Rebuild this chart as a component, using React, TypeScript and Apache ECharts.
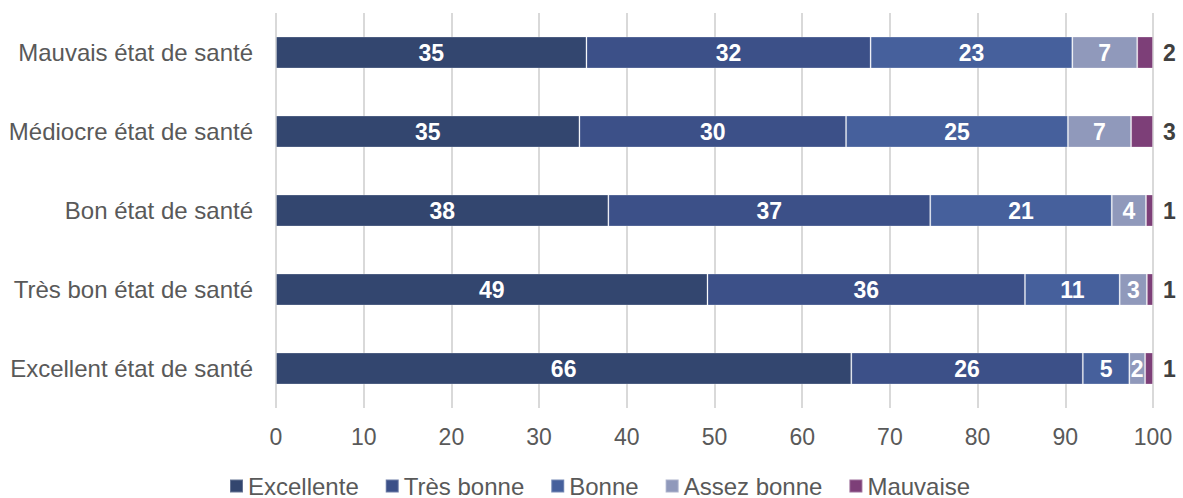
import React, { useEffect, useRef } from "react";
import * as echarts from "echarts";

const categories = [
  "Excellent état de santé",
  "Très bon état de santé",
  "Bon état de santé",
  "Médiocre état de santé",
  "Mauvais état de santé",
];
const seriesNames = ["Excellente", "Très bonne", "Bonne", "Assez bonne", "Mauvaise"];
const excellente = [65.6, 49.2, 37.9, 34.6, 35.4];
const tresBonne = [26.4, 36.2, 36.7, 30.4, 32.4];
const bonne = [5.3, 10.8, 20.7, 25.3, 23.0];
const assezBonne = [1.8, 3.1, 3.9, 7.2, 7.4];
const mauvaise = [0.9, 0.7, 0.8, 2.5, 1.8];
const xTicks = [0, 10, 20, 30, 40, 50, 60, 70, 80, 90, 100];

const colors = ["#33466F", "#3C5088", "#46609C", "#9099BB", "#7D3F78"];
const FONT = "'Liberation Sans', Arial, sans-serif";

export default function App() {
  const ref = useRef<HTMLDivElement>(null);
  useEffect(() => {
    if (!ref.current) return;
    const chart = echarts.init(ref.current, undefined, { renderer: "svg" });
    const data = [excellente, tresBonne, bonne, assezBonne, mauvaise];
    const series = data.map((d, i) => ({
      name: seriesNames[i],
      type: "bar",
      stack: "total",
      barWidth: 32,
      data: d,
      itemStyle: { color: colors[i], borderColor: "rgba(255,255,255,0.25)", borderWidth: 1 },
      label:
        i === 4
          ? {
              show: true,
              position: "right",
              distance: 10,
              color: "#404040",
              fontWeight: "bold",
              fontSize: 23,
              fontFamily: FONT,
              formatter: (p: any) => String(Math.round(p.value)),
            }
          : {
              show: true,
              position: "inside",
              color: "#ffffff",
              fontWeight: "bold",
              fontSize: 23,
              fontFamily: FONT,
              formatter: (p: any) => String(Math.round(p.value)),
            },
    }));
    chart.setOption({
      animation: false,
      color: colors,
      textStyle: { fontFamily: FONT },
      grid: { left: 276, right: 30, top: 13, bottom: 90, containLabel: false },
      xAxis: {
        type: "value",
        min: xTicks[0],
        max: xTicks[xTicks.length - 1],
        interval: 10,
        axisLine: { show: false },
        axisTick: { show: false },
        splitLine: { show: true, lineStyle: { color: "#D9D9D9", width: 2 } },
        axisLabel: { color: "#595959", fontSize: 23, margin: 17, fontFamily: FONT },
      },
      yAxis: {
        type: "category",
        data: categories,
        axisLine: { show: false },
        axisTick: { show: false },
        axisLabel: { color: "#595959", fontSize: 24, margin: 23, fontFamily: FONT },
      },
      legend: {
        bottom: 0,
        left: 229,
        padding: 0,
        icon: "rect",
        itemWidth: 13,
        itemHeight: 13,
        itemGap: 26,
        data: seriesNames,
        textStyle: { color: "#595959", fontSize: 24, fontFamily: FONT },
      },
      series,
    });
    return () => chart.dispose();
  }, []);
  return (
    <div
      ref={ref}
      style={{ position: "absolute", left: 0, top: 0, width: 1183, height: 498 }}
    />
  );
}
